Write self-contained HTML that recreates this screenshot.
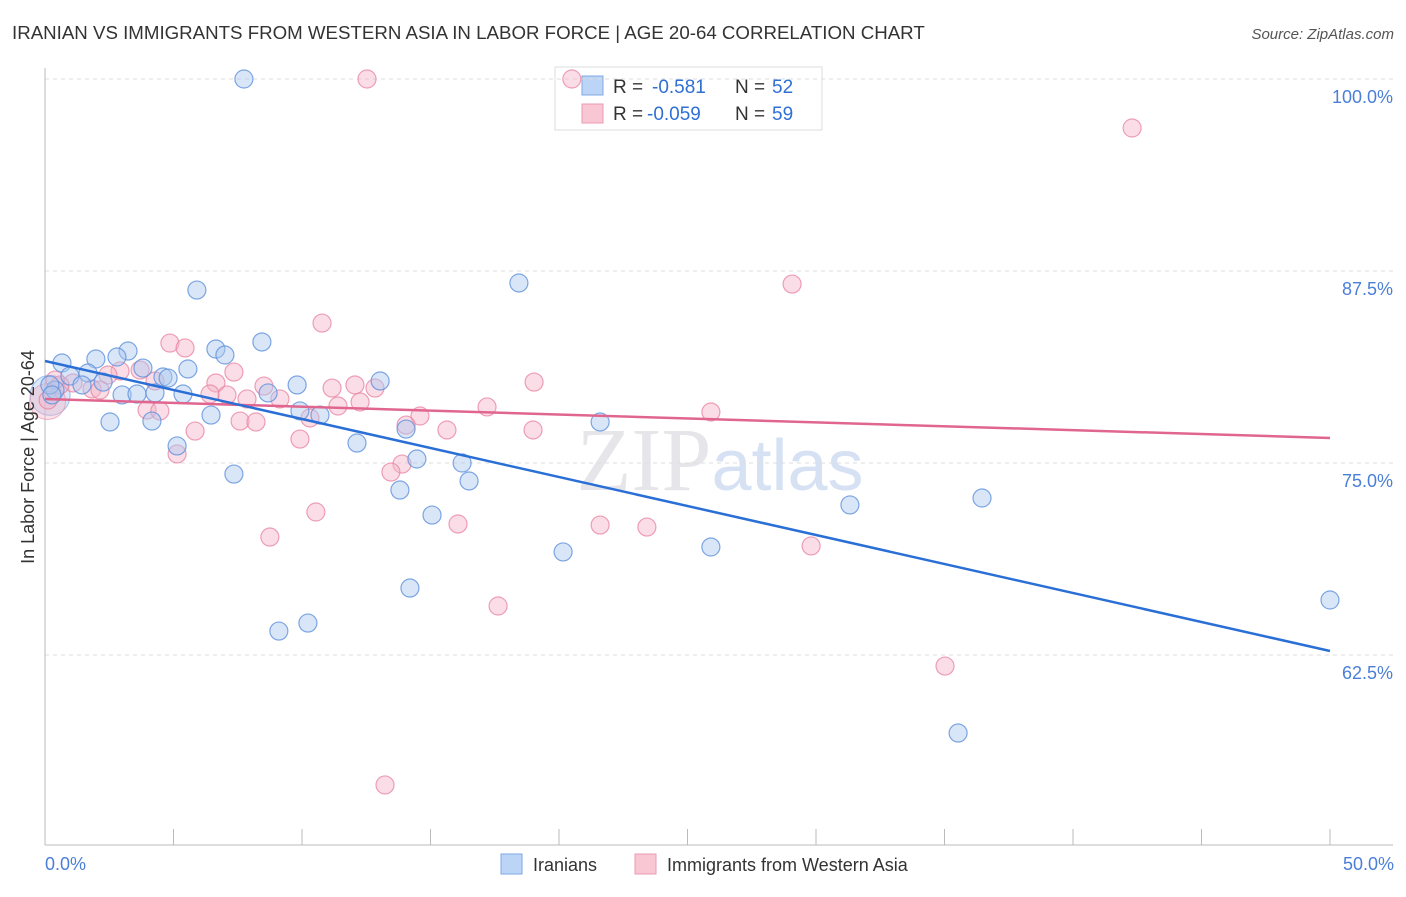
<!DOCTYPE html>
<html><head><meta charset="utf-8"><style>
body{margin:0;background:#fff;font-family:"Liberation Sans",sans-serif;}
</style></head><body>
<svg id="c" width="1406" height="892" xmlns="http://www.w3.org/2000/svg">
<text x="12" y="39" font-size="18.7" fill="#333">IRANIAN VS IMMIGRANTS FROM WESTERN ASIA IN LABOR FORCE | AGE 20-64 CORRELATION CHART</text>
<text x="1394" y="39" font-size="15" fill="#555" font-style="italic" text-anchor="end">Source: ZipAtlas.com</text>
<text x="720" y="490" font-size="90" fill="#e6e6ea" text-anchor="middle" font-family="Liberation Serif,serif">ZIP<tspan fill="#d6e2f3" font-family="Liberation Sans,sans-serif" font-size="72">atlas</tspan></text>
<g>
<rect x="555" y="67" width="267" height="63" fill="#fff" stroke="#ddd"/>
<rect x="582" y="76" width="21" height="19" fill="#bcd4f5" stroke="#7fa9e3"/>
<rect x="582" y="104" width="21" height="19" fill="#f9c6d4" stroke="#eb9bb3"/>
<text x="613" y="93" font-size="19" fill="#333">R =</text><text x="652" y="93" font-size="19" fill="#2f6fd6">-0.581</text>
<text x="735" y="93" font-size="19" fill="#333">N =</text><text x="772" y="93" font-size="19" fill="#2f6fd6">52</text>
<text x="613" y="120" font-size="19" fill="#333">R =</text><text x="647" y="120" font-size="19" fill="#2f6fd6">-0.059</text>
<text x="735" y="120" font-size="19" fill="#333">N =</text><text x="772" y="120" font-size="19" fill="#2f6fd6">59</text>
</g>
<g id="grid"></g><g id="marks"></g>
<text transform="translate(34,457) rotate(-90)" font-size="18" fill="#333" text-anchor="middle">In Labor Force | Age 20-64</text>
<text x="45" y="870" font-size="18" fill="#4a7fd8">0.0%</text>
<text x="1394" y="870" font-size="18" fill="#4a7fd8" text-anchor="end">50.0%</text>
<g>
<rect x="501" y="854" width="21" height="20" fill="#bcd4f5" stroke="#7fa9e3"/>
<text x="533" y="871" font-size="18" fill="#333">Iranians</text>
<rect x="635" y="854" width="21" height="20" fill="#f9c6d4" stroke="#eb9bb3"/>
<text x="667" y="871" font-size="18" fill="#333">Immigrants from Western Asia</text>
</g>
</svg>
<script>
const blueX=[7.74,5.91,18.44,8.44,6.65,7.0,3.23,1.98,0.66,2.80,3.81,5.56,1.67,0.97,4.59,4.79,2.26,1.44,13.04,9.81,0.39,3.0,3.58,4.28,5.37,8.68,6.46,9.92,10.7,2.53,4.16,21.6,12.14,5.14,14.05,14.47,16.23,7.35,16.5,13.81,15.06,31.32,36.46,20.16,25.91,14.2,10.23,9.1,50,35.53,0.19,0.27];
const blueY=[100,86.26,86.72,82.88,82.42,82.03,82.29,81.77,81.51,81.9,81.18,81.12,80.86,80.66,80.6,80.53,80.27,80.08,80.34,80.08,79.75,79.43,79.49,79.56,79.49,79.56,78.12,78.39,78.12,77.67,77.73,77.67,76.3,76.11,77.21,75.26,75.0,74.28,73.83,73.24,71.61,72.27,72.72,69.21,69.53,66.86,64.58,64.06,66.08,57.42,80.08,79.43];
const pinkX=[12.53,20.5,42.3,29.07,10.78,4.86,5.45,7.35,8.52,6.65,12.06,11.17,19.03,12.84,3.7,2.92,2.45,1.09,0.58,1.83,2.14,4.28,7.08,6.42,7.86,9.14,12.26,11.4,17.2,25.91,14.59,3.97,4.47,10.31,7.59,8.21,14.05,15.64,18.99,5.84,9.92,5.14,13.89,13.46,10.54,16.07,21.6,23.42,8.75,29.81,17.63,35.02,13.23,0.12,0.39];
const pinkY=[100,100,96.81,86.65,84.11,82.81,82.49,80.92,80.01,80.21,80.08,79.88,80.27,79.88,81.05,80.99,80.73,80.21,80.08,79.82,79.75,80.34,79.43,79.49,79.17,79.17,78.97,78.71,78.65,78.32,78.06,78.45,78.39,77.93,77.73,77.67,77.47,77.15,77.15,77.08,76.56,75.59,74.93,74.41,71.81,71.03,70.96,70.83,70.18,69.6,65.69,61.78,54.04,79.1,80.4];
const blueTrend=[81.64,62.76];
const pinkTrend=[79.17,76.63];
const yTicks=[100,87.5,75,62.5];
const yTickLabels=["100.0%","87.5%","75.0%","62.5%"];
const xTicks=[0,5,10,15,20,25,30,35,40,45,50];
const NS="http://www.w3.org/2000/svg";
const X=v=>45+v*25.7, Y=v=>79+(100-v)*15.36;
function mk(p,t,a){const e=document.createElementNS(NS,t);for(const k in a)e.setAttribute(k,a[k]);p.appendChild(e);return e;}
const g=document.getElementById('grid'), m=document.getElementById('marks');
yTicks.forEach((t,i)=>{
 const l=mk(g,'line',{x1:45,x2:1393,y1:Y(t),y2:Y(t),stroke:'#ddd','stroke-dasharray':'4,4'});
 
 
 const tx=mk(g,'text',{x:1393,y:Y(t)+24,'font-size':18,fill:'#4a7fd8','text-anchor':'end'});
 tx.textContent=yTickLabels[i];
 
 
});
const ax=mk(g,'line',{x1:45,x2:45,y1:68,y2:845,stroke:'#bbb'});


const bx=mk(g,'line',{x1:45,x2:1393,y1:845,y2:845,stroke:'#bbb'});


xTicks.forEach(t=>{
 const l=mk(g,'line',{x1:X(t),x2:X(t),y1:829,y2:845,stroke:'#bbb'});
 
 
});
const bb=mk(m,'circle',{cx:X(0.2),cy:Y(79.4),r:20,fill:'rgba(170,200,240,0.4)',stroke:'rgba(100,150,220,0.6)'});


const pb=mk(m,'circle',{cx:X(0.1),cy:Y(79.0),r:18,fill:'rgba(245,180,200,0.4)',stroke:'rgba(232,138,165,0.6)'});


pinkX.forEach((x,i)=>{
 const c=mk(m,'circle',{cx:X(x),cy:Y(pinkY[i]),r:9,fill:'rgba(245,180,200,0.45)',stroke:'rgba(232,130,160,0.75)','stroke-width':1.2});
 
 
});
blueX.forEach((x,i)=>{
 const c=mk(m,'circle',{cx:X(x),cy:Y(blueY[i]),r:9,fill:'rgba(170,200,240,0.45)',stroke:'rgba(95,145,220,0.8)','stroke-width':1.2});
 
 
});
const pl=mk(m,'line',{x1:X(0),x2:X(50),y1:Y(pinkTrend[0]),y2:Y(pinkTrend[1]),stroke:'#e0668f','stroke-width':2.5});


const bl=mk(m,'line',{x1:X(0),x2:X(50),y1:Y(blueTrend[0]),y2:Y(blueTrend[1]),stroke:'#2a6fd6','stroke-width':2.5});


</script>
</body></html>
